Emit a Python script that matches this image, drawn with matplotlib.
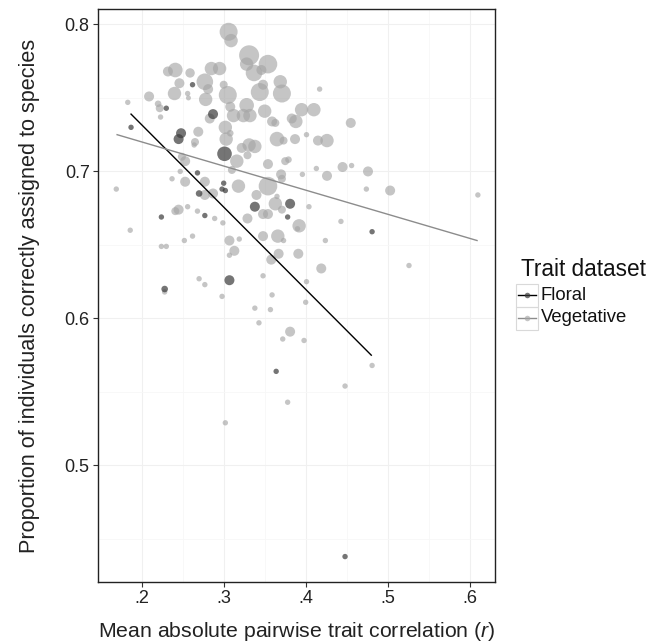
import matplotlib
matplotlib.use('Agg')
import matplotlib.pyplot as plt
from matplotlib.patches import Rectangle
from matplotlib.lines import Line2D

plt.rcParams['font.family'] = ['Liberation Sans', 'DejaVu Sans']
plt.rcParams['mathtext.fontset'] = 'custom'
plt.rcParams['mathtext.rm'] = 'Liberation Sans'
plt.rcParams['mathtext.it'] = 'Liberation Sans:italic'

# Floral trait datasets: mean |r|, proportion correctly assigned, point size (px radius)
floral_r = [0.262, 0.230, 0.287, 0.187, 0.248, 0.245, 0.301, 0.268, 0.300, 0.298, 0.302,
            0.270, 0.338, 0.381, 0.378, 0.224, 0.277, 0.228, 0.307, 0.364, 0.481, 0.448]
floral_prop = [0.759, 0.743, 0.739, 0.730, 0.726, 0.722, 0.712, 0.699, 0.692, 0.688, 0.687,
               0.685, 0.676, 0.678, 0.669, 0.669, 0.670, 0.620, 0.626, 0.564, 0.659, 0.438]
floral_size = [2.7, 2.7, 5, 2.7, 5, 5, 7.3, 2.7, 2.7, 2.7, 2.7,
               3.3, 5, 5, 2.7, 2.7, 2.7, 3.3, 5, 2.7, 2.7, 2.7]

# Vegetative trait datasets
veg_r = [0.306, 0.309, 0.331, 0.328, 0.354, 0.337, 0.346, 0.241, 0.232, 0.259,
         0.285, 0.295, 0.246, 0.277, 0.300, 0.240, 0.256, 0.257, 0.281, 0.278,
         0.305, 0.344, 0.348, 0.369, 0.371, 0.209, 0.183, 0.220, 0.222, 0.223,
         0.283, 0.308, 0.312, 0.328, 0.324, 0.332, 0.350, 0.359, 0.363, 0.383,
         0.269, 0.265, 0.264, 0.302, 0.303, 0.308, 0.322, 0.331, 0.338, 0.329,
         0.365, 0.373, 0.387, 0.249, 0.253, 0.316, 0.310, 0.354, 0.375, 0.379,
         0.247, 0.237, 0.253, 0.277, 0.318, 0.354, 0.371, 0.169,
         0.417, 0.395, 0.410, 0.388, 0.455, 0.401, 0.426, 0.415, 0.370, 0.396,
         0.413, 0.426, 0.445, 0.456, 0.476, 0.474, 0.503, 0.610, 0.340, 0.365,
         0.277, 0.287, 0.354, 0.348, 0.363, 0.371, 0.241, 0.245, 0.256, 0.268,
         0.289, 0.299, 0.329, 0.186, 0.252, 0.262, 0.307, 0.319, 0.348, 0.366,
         0.373, 0.224, 0.230, 0.313, 0.307, 0.367, 0.358, 0.228, 0.270, 0.277,
         0.298, 0.348, 0.359, 0.338, 0.357, 0.343, 0.381, 0.372,
         0.404, 0.392, 0.390, 0.443, 0.424, 0.391, 0.419, 0.526, 0.401, 0.400,
         0.398, 0.481, 0.302, 0.378, 0.448]
veg_prop = [0.795, 0.789, 0.779, 0.773, 0.773, 0.767, 0.769, 0.769, 0.768, 0.767,
            0.770, 0.770, 0.760, 0.761, 0.759, 0.753, 0.753, 0.750, 0.756, 0.749,
            0.752, 0.754, 0.759, 0.761, 0.753, 0.751, 0.747, 0.746, 0.743, 0.737,
            0.736, 0.744, 0.738, 0.745, 0.738, 0.738, 0.741, 0.734, 0.733, 0.736,
            0.727, 0.720, 0.718, 0.730, 0.722, 0.726, 0.716, 0.718, 0.717, 0.711,
            0.722, 0.721, 0.722, 0.710, 0.707, 0.707, 0.701, 0.705, 0.707, 0.708,
            0.700, 0.695, 0.693, 0.693, 0.690, 0.690, 0.695, 0.688,
            0.756, 0.742, 0.742, 0.734, 0.733, 0.725, 0.721, 0.721, 0.698, 0.698,
            0.702, 0.697, 0.703, 0.704, 0.700, 0.688, 0.687, 0.684, 0.684, 0.683,
            0.684, 0.685, 0.671, 0.671, 0.678, 0.674, 0.673, 0.674, 0.676, 0.673,
            0.668, 0.665, 0.668, 0.660, 0.653, 0.656, 0.653, 0.654, 0.656, 0.656,
            0.653, 0.649, 0.649, 0.646, 0.643, 0.644, 0.640, 0.618, 0.627, 0.623,
            0.615, 0.629, 0.616, 0.607, 0.606, 0.597, 0.591, 0.586,
            0.676, 0.663, 0.661, 0.666, 0.653, 0.644, 0.634, 0.636, 0.625, 0.611,
            0.585, 0.568, 0.529, 0.543, 0.554]
veg_size = [9, 6.7, 10, 6.7, 9.3, 8.3, 5, 7.3, 5, 4.7,
            6.7, 6.7, 5, 8.3, 4, 6.7, 2.7, 2.5, 5, 6.7,
            9, 9, 5, 6.7, 9, 5, 2.7, 3.3, 4, 2.7,
            5, 5, 6.7, 7.3, 6.7, 6.7, 6.7, 5, 4, 5,
            5, 4, 2.7, 6.7, 6.7, 3.3, 5, 6.7, 6.7, 4,
            7.3, 4, 5, 4, 5, 6.7, 4, 5, 4, 3.3,
            2.7, 2.7, 5, 5, 6.7, 9.3, 4, 2.7,
            2.7, 6.7, 6.7, 6.7, 5, 2.7, 6.7, 5, 5, 2.7,
            2.7, 5, 5, 2.7, 5, 2.7, 5, 2.7, 5, 2.7,
            5, 5, 5, 5, 6.7, 4, 4, 5, 2.7, 2.7,
            2.7, 2.7, 5, 2.7, 2.7, 2.7, 5, 2.7, 5, 6.7,
            2.7, 2.7, 2.7, 5, 2.7, 5, 5, 2.7, 2.7, 2.7,
            2.7, 2.7, 2.7, 2.7, 2.7, 2.7, 5, 2.7,
            2.7, 6.7, 2.7, 2.7, 2.7, 5, 5, 2.7, 2.7, 2.7,
            2.7, 2.7, 2.7, 2.7, 2.7]

# fitted lines (lm) end points
floral_fit_r = [0.187, 0.480]
floral_fit_prop = [0.739, 0.575]
veg_fit_r = [0.170, 0.609]
veg_fit_prop = [0.725, 0.653]

xticks = [0.2, 0.3, 0.4, 0.5, 0.6]
xticklabels = ['.2', '.3', '.4', '.5', '.6']
yticks = [0.5, 0.6, 0.7, 0.8]
yticklabels = ['0.5', '0.6', '0.7', '0.8']

floral_col = '#3a3a3a'
veg_col = '#a6a6a6'

W, H = 652, 642
fig = plt.figure(figsize=(W/100, H/100), dpi=100)
ax = fig.add_axes([98/W, 60/H, 397/W, 573/H])

def area(sizes):
    return [(2*r*0.72)**2 for r in sizes]

ax.scatter(veg_r, veg_prop, s=area(veg_size), color=veg_col, alpha=0.65, linewidths=0, zorder=2)
ax.scatter(floral_r, floral_prop, s=area(floral_size), color=floral_col, alpha=0.7, linewidths=0, zorder=3)
ax.plot(floral_fit_r, floral_fit_prop, color='black', lw=1.0, zorder=4)
ax.plot(veg_fit_r, veg_fit_prop, color='#8c8c8c', lw=1.0, zorder=4)

ax.set_xlim(0.1467, 0.6309)
ax.set_ylim(0.4207, 0.8105)
ax.set_xticks(xticks)
ax.set_xticklabels(xticklabels)
ax.set_yticks(yticks)
ax.set_yticklabels(yticklabels)
ax.set_xticks([0.25, 0.35, 0.45, 0.55], minor=True)
ax.set_yticks([0.45, 0.55, 0.65, 0.75], minor=True)
ax.grid(which='major', color='#f0f0f0', lw=0.8, zorder=0)
ax.grid(which='minor', color='#f7f7f7', lw=0.6, zorder=0)
ax.set_axisbelow(True)
ax.tick_params(which='minor', length=0)
ax.tick_params(which='major', length=3.5, width=0.8, color='#333333', labelsize=13,
               labelcolor='#222222', pad=2.5)
for sp in ax.spines.values():
    sp.set_color('#222222')
    sp.set_linewidth(1.0)

ax.set_xlabel('Mean absolute pairwise trait correlation ($\\mathit{r}$)', fontsize=15.3, labelpad=9, color='#222222')
ax.set_ylabel('Proportion of individuals correctly assigned to species', fontsize=15.6, labelpad=18, color='#222222')

# legend drawn by hand to get the boxed keys
def fx(px):
    return px/W
def fy(py):
    return 1 - py/H

fig.text(fx(521), fy(270), 'Trait dataset', fontsize=16.3, va='center', ha='left', color='#111111')
entries = [('Floral', floral_col, 'black', 0.7, 295), ('Vegetative', veg_col, '#8c8c8c', 0.65, 318)]
for lab, pcol, lcol, alp, yc in entries:
    fig.add_artist(Rectangle((fx(516), fy(yc + 11.5)), 22/W, 23/H, transform=fig.transFigure,
                             fill=False, edgecolor='#d9d9d9', lw=0.8))
    fig.add_artist(Line2D([fx(518), fx(536)], [fy(yc), fy(yc)], transform=fig.transFigure, color=lcol, lw=1.0))
    fig.add_artist(Line2D([fx(527)], [fy(yc)], transform=fig.transFigure, marker='o', ms=4,
                          color=pcol, alpha=alp, markeredgewidth=0, linestyle='none'))
    fig.text(fx(541), fy(yc), lab, fontsize=13.3, va='center', ha='left', color='#111111')

plt.savefig('out.png', dpi=100)
